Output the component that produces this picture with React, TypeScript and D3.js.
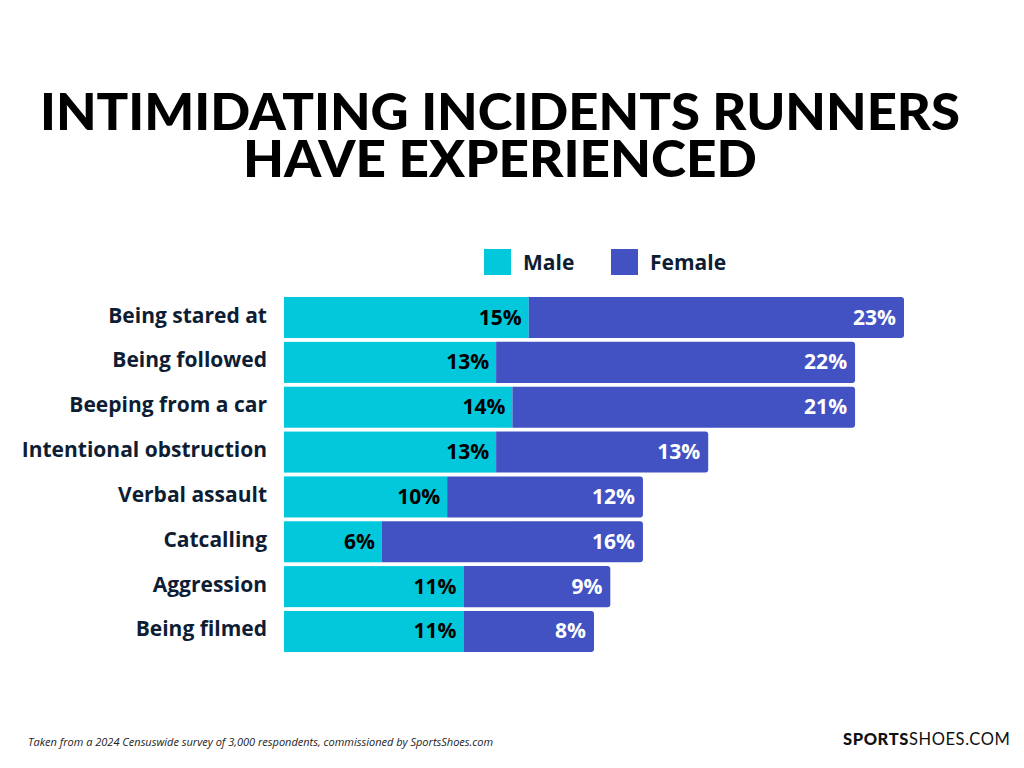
import React from "react";
import * as d3 from "d3";

const categories = [
  "Being stared at",
  "Being followed",
  "Beeping from a car",
  "Intentional obstruction",
  "Verbal assault",
  "Catcalling",
  "Aggression",
  "Being filmed",
];
const maleValues = [15, 13, 14, 13, 10, 6, 11, 11];
const femaleValues = [23, 22, 21, 13, 12, 16, 9, 8];
const seriesNames = ["Male", "Female"];

const MALE = "#03C8DB";
const FEMALE = "#4252C3";
const INK = "#0E1D33";
const TITLE_FONT = "Lato, 'Noto Sans', sans-serif";
const FONT = "'Open Sans', 'Noto Sans', sans-serif";

export default function App() {
  const W = 1024, H = 768;
  const x0 = 284;
  const x = d3.scaleLinear().domain([0, 38]).range([x0, 904]);
  const y = d3.scaleBand<string>().domain(categories).range([297, 652]).paddingInner(0.085).paddingOuter(0);
  const bh = y.bandwidth();

  const rr = 3;
  const femalePath = (xa: number, xb: number, yt: number, h: number) =>
    `M${xa},${yt}H${xb - rr}Q${xb},${yt} ${xb},${yt + rr}V${yt + h - rr}Q${xb},${yt + h} ${xb - rr},${yt + h}H${xa}Z`;

  return (
    <svg width={W} height={H} style={{ display: "block", position: "absolute", left: 0, top: 0, background: "#fff" }}>
      <rect width={W} height={H} fill="#fff" />
      <g fontFamily={TITLE_FONT} fill="#000" fontWeight={900} textAnchor="middle" fontSize={51}>
        <text x={500} y={130} textLength={920} lengthAdjust="spacingAndGlyphs">INTIMIDATING INCIDENTS RUNNERS</text>
        <text x={500} y={177} textLength={514} lengthAdjust="spacingAndGlyphs">HAVE EXPERIENCED</text>
      </g>
      <g fontFamily={FONT} fontWeight={700} fontSize={21} fill={INK}>
        <rect x={484} y={249} width={27} height={26} fill={MALE} />
        <text x={523} y={270}>{seriesNames[0]}</text>
        <rect x={611} y={249} width={27} height={26} fill={FEMALE} />
        <text x={650} y={270}>{seriesNames[1]}</text>
      </g>
      {categories.map((c, i) => {
        const yt = y(c)!;
        const xm = x(maleValues[i]);
        const xf = x(maleValues[i] + femaleValues[i]);
        const cy = yt + bh / 2 + 7;
        return (
          <g key={c} fontFamily={FONT} fontWeight={700} fontSize={21}>
            <text x={267} y={cy - 2} textAnchor="end" fill={INK}>{c}</text>
            <rect x={x0} y={yt} width={xm - x0} height={bh} fill={MALE} />
            <path d={femalePath(xm, xf, yt, bh)} fill={FEMALE} />
            <text x={xm - 7} y={cy} textAnchor="end" fill="#000">{maleValues[i]}%</text>
            <text x={xf - 8} y={cy} textAnchor="end" fill="#fff">{femaleValues[i]}%</text>
          </g>
        );
      })}
      <text x={28} y={746} fontFamily={FONT} fontStyle="italic" fontSize={11} fill="#222">
        Taken from a 2024 Censuswide survey of 3,000 respondents, commissioned by SportsShoes.com
      </text>
      <text x={843} y={745} fontFamily={TITLE_FONT} fontSize={16.5} fill="#111" letterSpacing={0.6}>
        <tspan fontWeight={900}>SPORTS</tspan>
        <tspan fontWeight={400}>SHOES.COM</tspan>
      </text>
    </svg>
  );
}
